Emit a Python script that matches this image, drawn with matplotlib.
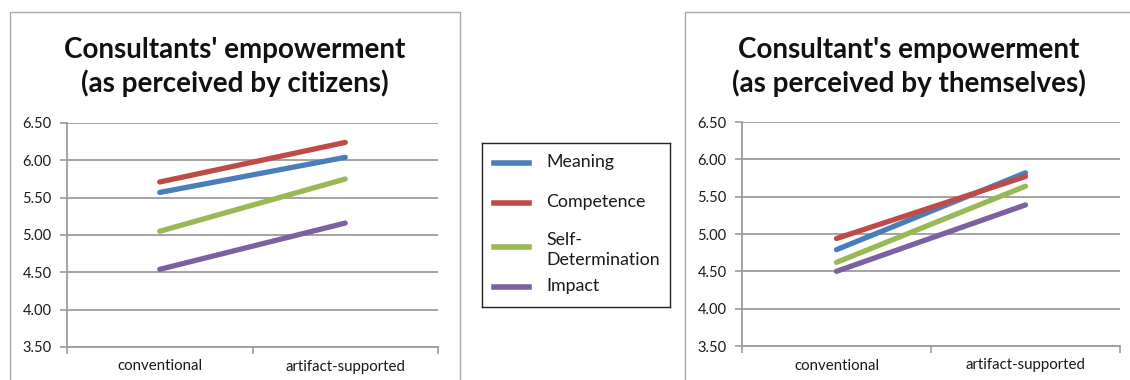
import matplotlib
matplotlib.use("Agg")
import matplotlib.pyplot as plt
from matplotlib.patches import Rectangle
from matplotlib.lines import Line2D

# Data
categories = ["conventional", "artifact-supported"]
series_names = ["Meaning", "Competence", "Self-Determination", "Impact"]
legend_labels = ["Meaning", "Competence", "Self-\nDetermination", "Impact"]

citizens_meaning = [5.57, 6.04]
citizens_competence = [5.71, 6.24]
citizens_self_determination = [5.05, 5.75]
citizens_impact = [4.54, 5.16]

selves_meaning = [4.79, 5.82]
selves_competence = [4.94, 5.77]
selves_self_determination = [4.62, 5.64]
selves_impact = [4.50, 5.39]

y_ticks = [3.50, 4.00, 4.50, 5.00, 5.50, 6.00, 6.50]

title_left = "Consultants' empowerment\n(as perceived by citizens)"
title_right = "Consultant's empowerment\n(as perceived by themselves)"

colors = ["#4A7EBB", "#BE4B48", "#98B954", "#7D60A0"]
grid_color = "#9C9C9C"

plt.rcParams["font.family"] = ["Lato", "DejaVu Sans"]

W, H = 1130, 380
fig = plt.figure(figsize=(W / 100, H / 100), dpi=100)
fig.patch.set_facecolor("white")


def fx(px):
    return px / W


def fy(py):
    return 1 - py / H


# Chart frames
for x0, x1 in [(10, 460), (685, 1135)]:
    fig.patches.append(Rectangle((fx(x0), fy(400)), fx(x1 - x0), (400 - 12) / H,
                                 transform=fig.transFigure, fill=False,
                                 edgecolor="#A8A8A8", linewidth=1.0))


def draw_panel(rect_px, series, title, title_cx):
    x0, x1, ytop, ybot = rect_px
    ax = fig.add_axes([fx(x0), fy(ybot), fx(x1 - x0), (ybot - ytop) / H])
    xs = list(range(len(categories)))
    for vals, c in zip(series, colors):
        ax.plot(xs, vals, color=c, linewidth=3.8, solid_capstyle="round", zorder=3)
    ax.set_xlim(-0.5, len(categories) - 0.5)
    ax.set_ylim(3.5, 6.5)
    ax.set_yticks(y_ticks)
    ax.set_yticklabels([f"{v:.2f}" for v in y_ticks], fontsize=10.5, color="#1a1a1a")
    ax.set_xticks([-0.5, 0.5, 1.5])
    ax.set_xticklabels([])
    ax.set_xticks(xs, minor=True)
    ax.set_xticklabels(categories, minor=True, fontsize=10.8, color="#1a1a1a")
    ax.tick_params(axis="x", which="minor", length=0, pad=9)
    ax.tick_params(axis="x", which="major", length=5, width=1.2, color=grid_color, direction="out")
    ax.tick_params(axis="y", length=5, width=1.2, color=grid_color, direction="out", pad=6)
    ax.yaxis.grid(True, color=grid_color, linewidth=1.3)
    ax.set_axisbelow(True)
    for s in ["top", "right"]:
        ax.spines[s].set_visible(False)
    for s in ["left", "bottom"]:
        ax.spines[s].set_color(grid_color)
        ax.spines[s].set_linewidth(1.3)
    fig.text(fx(title_cx), fy(67), title, ha="center", va="center",
             fontsize=20, fontweight="bold", linespacing=1.32, color="#111111")
    return ax


draw_panel((67, 438, 123, 347),
           [citizens_meaning, citizens_competence, citizens_self_determination, citizens_impact],
           title_left, 235)
draw_panel((742, 1120, 122, 346),
           [selves_meaning, selves_competence, selves_self_determination, selves_impact],
           title_right, 909)

# Legend box
lx0, lx1, ly0, ly1 = 482, 670, 143, 307
lax = fig.add_axes([fx(lx0), fy(ly1), fx(lx1 - lx0), (ly1 - ly0) / H])
lax.set_xlim(lx0, lx1)
lax.set_ylim(ly1, ly0)
lax.set_xticks([])
lax.set_yticks([])
for s in lax.spines.values():
    s.set_color("#222222")
    s.set_linewidth(1.0)
sample_y = [163, 203, 247, 287]
text_y = [162, 202, 250, 286]
for c, lab, sy, ty in zip(colors, legend_labels, sample_y, text_y):
    lax.add_line(Line2D([494, 529], [sy, sy], color=c, linewidth=4.0))
    lax.text(546, ty, lab, ha="left", va="center", fontsize=12.8, color="#1a1a1a",
             linespacing=1.25)

fig.savefig("out.png", dpi=100, facecolor="white")
